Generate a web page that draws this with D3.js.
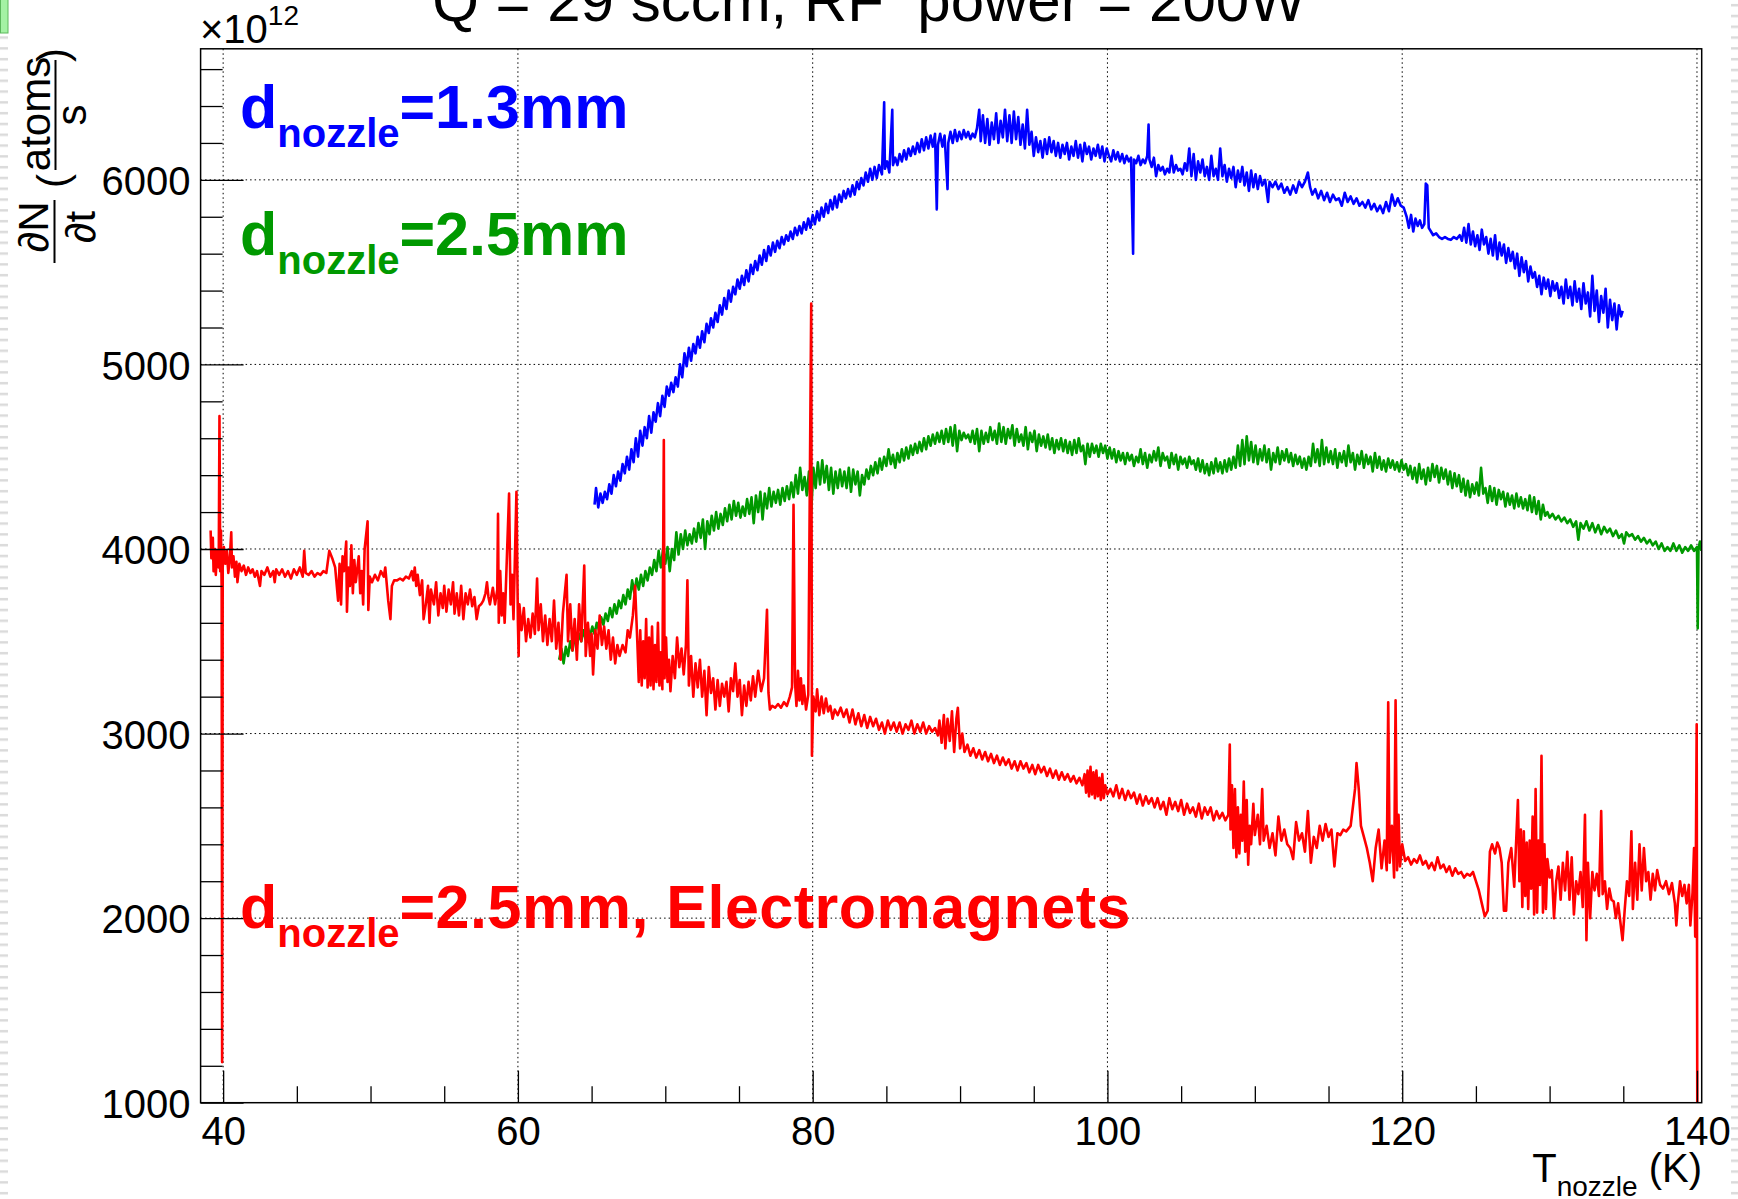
<!DOCTYPE html>
<html><head><meta charset="utf-8">
<script src="https://cdn.jsdelivr.net/npm/d3@7"></script>
<style>
html,body{margin:0;padding:0;background:#fff;}
svg{display:block;}
text{font-family:"Liberation Sans",Arial,Helvetica,sans-serif;}
</style></head><body>
<svg id="chart" width="1738" height="1199"></svg>
<script>
// ---------------- data ----------------
const titleText = "Q = 29 sccm, RF\u00a0 power = 200W";
const xTicksMajor = [40,60,80,100,120,140];
const xTicksMinor = [45,50,55,65,70,75,85,90,95,105,110,115,125,130,135];
const yTicksMajor = [1000,2000,3000,4000,5000,6000];
const yTicksMinor = [1200,1400,1600,1800,2200,2400,2600,2800,3200,3400,3600,3800,4200,4400,4600,4800,5200,5400,5600,5800,6200,6400,6600];
const labelBlue = "=1.3mm";
const labelGreen = "=2.5mm";
const labelRed = "=2.5mm, Electromagnets";

// d_nozzle = 1.3 mm  [T (K), dN/dt (1e12 atoms/s)]
const blueSeries = [[65.2,4240],[65.3,4330],[65.45,4225],[65.6,4300],[65.75,4250],[65.9,4310],[66.05,4270],[66.2,4350],[66.35,4300],[66.5,4400],[66.65,4340],[66.8,4420],[66.95,4370],[67.1,4460],[67.25,4410],[67.4,4500],[67.55,4430],[67.7,4540],[67.85,4470],[68.0,4600],[68.15,4500],[68.3,4640],[68.45,4560],[68.6,4660],[68.75,4600],[68.9,4720],[69.05,4630],[69.2,4740],[69.35,4690],[69.5,4790],[69.65,4720],[69.8,4830],[69.95,4770],[70.1,4880],[70.25,4830],[70.4,4900],[70.55,4850],[70.7,4930],[70.85,4880],[71.0,5000],[71.15,4930],[71.3,5060],[71.45,4990],[71.6,5090],[71.75,5020],[71.9,5110],[72.05,5060],[72.2,5150],[72.35,5090],[72.5,5180],[72.65,5120],[72.8,5220],[72.95,5170],[73.1,5250],[73.25,5200],[73.4,5280],[73.55,5230],[73.7,5320],[73.85,5270],[74.0,5360],[74.15,5300],[74.3,5400],[74.45,5340],[74.6,5420],[74.75,5380],[74.9,5460],[75.05,5410],[75.2,5480],[75.35,5430],[75.5,5510],[75.65,5450],[75.8,5540],[75.95,5490],[76.1,5560],[76.25,5510],[76.4,5590],[76.55,5540],[76.7,5620],[76.85,5560],[77.0,5640],[77.15,5590],[77.3,5660],[77.45,5610],[77.6,5670],[77.75,5630],[77.9,5690],[78.05,5650],[78.2,5700],[78.35,5670],[78.5,5720],[78.65,5680],[78.8,5740],[78.95,5700],[79.1,5750],[79.25,5710],[79.4,5770],[79.55,5730],[79.7,5790],[79.85,5740],[80.0,5810],[80.15,5760],[80.3,5830],[80.45,5780],[80.6,5850],[80.75,5800],[80.9,5870],[81.05,5820],[81.2,5890],[81.35,5840],[81.5,5910],[81.65,5850],[81.8,5920],[81.95,5880],[82.1,5940],[82.25,5900],[82.4,5950],[82.55,5910],[82.7,5970],[82.85,5920],[83.0,5990],[83.15,5950],[83.3,6010],[83.45,5970],[83.6,6040],[83.75,5990],[83.9,6060],[84.05,6000],[84.2,6070],[84.35,6010],[84.5,6080],[84.7,6030],[84.85,6420],[84.9,6060],[85.05,6100],[85.2,6040],[85.4,6380],[85.45,6080],[85.6,6120],[85.75,6080],[85.9,6140],[86.05,6100],[86.2,6160],[86.35,6110],[86.5,6170],[86.65,6130],[86.8,6180],[86.95,6140],[87.1,6200],[87.25,6150],[87.4,6220],[87.55,6160],[87.7,6230],[87.85,6170],[88.0,6240],[88.15,6180],[88.3,6250],[88.42,5840],[88.5,6190],[88.65,6250],[88.8,6180],[88.95,6240],[89.15,5950],[89.2,6200],[89.35,6260],[89.5,6200],[89.65,6270],[89.8,6210],[89.95,6260],[90.1,6220],[90.25,6270],[90.4,6230],[90.55,6260],[90.7,6220],[90.85,6250],[91.0,6230],[91.15,6280],[91.3,6380],[91.4,6210],[91.55,6350],[91.7,6200],[91.85,6330],[92.0,6190],[92.15,6310],[92.3,6220],[92.45,6360],[92.6,6200],[92.75,6320],[92.9,6230],[93.05,6380],[93.2,6210],[93.35,6350],[93.5,6200],[93.65,6370],[93.8,6220],[93.95,6340],[94.1,6190],[94.25,6300],[94.4,6170],[94.55,6380],[94.7,6190],[94.85,6260],[95.0,6130],[95.15,6230],[95.3,6150],[95.45,6210],[95.6,6120],[95.75,6220],[95.9,6140],[96.05,6230],[96.2,6150],[96.35,6210],[96.5,6130],[96.65,6200],[96.8,6120],[96.95,6190],[97.1,6140],[97.25,6200],[97.4,6110],[97.55,6180],[97.7,6130],[97.85,6210],[98.0,6120],[98.15,6190],[98.3,6100],[98.45,6200],[98.6,6140],[98.75,6180],[98.9,6110],[99.05,6170],[99.2,6130],[99.35,6190],[99.5,6120],[99.65,6180],[99.8,6100],[99.95,6170],[100.1,6130],[100.25,6100],[100.4,6160],[100.55,6110],[100.7,6150],[100.85,6100],[101.0,6140],[101.15,6090],[101.3,6130],[101.45,6100],[101.6,6120],[101.74,5600],[101.8,6110],[101.95,6090],[102.1,6130],[102.25,6080],[102.4,6110],[102.55,6090],[102.7,6130],[102.79,6300],[102.85,6110],[103.0,6070],[103.15,6120],[103.3,6020],[103.45,6080],[103.6,6050],[103.75,6070],[103.9,6030],[104.05,6060],[104.2,6040],[104.35,6130],[104.5,6040],[104.65,6080],[104.8,6050],[104.95,6060],[105.1,6030],[105.25,6090],[105.4,6050],[105.55,6170],[105.7,6020],[105.85,6140],[106.0,6000],[106.15,6100],[106.3,6040],[106.45,6110],[106.6,6020],[106.75,6070],[106.9,6000],[107.05,6130],[107.2,6020],[107.35,6060],[107.5,6000],[107.65,6170],[107.8,6020],[107.95,6080],[108.1,5990],[108.25,6060],[108.4,6010],[108.55,6070],[108.7,5960],[108.85,6050],[109.0,5990],[109.15,6070],[109.3,5970],[109.45,6040],[109.6,5940],[109.75,6050],[109.9,5960],[110.05,6030],[110.2,5950],[110.35,6020],[110.5,5970],[110.7,6000],[110.9,5880],[111.0,5990],[111.2,5960],[111.4,5990],[111.6,5950],[111.8,5980],[112.0,5930],[112.2,5960],[112.4,5920],[112.6,5970],[112.8,5930],[113.0,5990],[113.2,5960],[113.4,5990],[113.6,6040],[113.75,5960],[113.9,5920],[114.1,5950],[114.3,5900],[114.5,5940],[114.7,5890],[114.9,5930],[115.1,5880],[115.3,5920],[115.5,5890],[115.7,5900],[115.9,5860],[116.1,5930],[116.3,5880],[116.5,5910],[116.7,5870],[116.9,5900],[117.1,5860],[117.3,5880],[117.5,5850],[117.7,5890],[117.9,5840],[118.1,5870],[118.3,5830],[118.5,5860],[118.7,5820],[118.9,5880],[119.1,5830],[119.3,5920],[119.5,5860],[119.7,5900],[119.9,5860],[120.1,5850],[120.3,5800],[120.45,5740],[120.6,5810],[120.75,5720],[120.9,5790],[121.05,5750],[121.2,5780],[121.35,5740],[121.5,5760],[121.6,5980],[121.7,5970],[121.8,5740],[121.95,5720],[122.1,5700],[122.3,5710],[122.5,5690],[122.7,5680],[122.9,5690],[123.1,5680],[123.3,5675],[123.5,5690],[123.7,5680],[123.9,5700],[124.05,5670],[124.2,5740],[124.35,5660],[124.5,5760],[124.65,5650],[124.8,5720],[124.95,5640],[125.1,5700],[125.25,5620],[125.4,5730],[125.55,5650],[125.7,5690],[125.85,5600],[126.0,5680],[126.15,5590],[126.3,5700],[126.45,5570],[126.6,5660],[126.75,5590],[126.9,5650],[127.05,5550],[127.2,5630],[127.35,5560],[127.5,5610],[127.65,5520],[127.8,5600],[127.95,5480],[128.1,5580],[128.25,5500],[128.4,5560],[128.55,5450],[128.7,5530],[128.85,5470],[129.0,5500],[129.15,5420],[129.3,5480],[129.45,5380],[129.6,5470],[129.75,5410],[129.9,5460],[130.05,5370],[130.2,5450],[130.35,5400],[130.5,5440],[130.65,5360],[130.8,5420],[130.95,5330],[131.1,5460],[131.25,5360],[131.4,5420],[131.55,5320],[131.7,5450],[131.85,5340],[132.0,5410],[132.15,5300],[132.3,5440],[132.45,5330],[132.6,5390],[132.75,5260],[132.9,5480],[133.05,5290],[133.2,5400],[133.35,5230],[133.5,5370],[133.65,5280],[133.8,5410],[133.95,5200],[134.1,5350],[134.25,5240],[134.4,5330],[134.55,5190],[134.7,5320],[134.85,5260],[134.96,5290]];

// d_nozzle = 2.5 mm
const greenSeries = [[62.8,3400],[62.95,3460],[63.1,3380],[63.25,3470],[63.4,3420],[63.55,3500],[63.7,3450],[63.85,3520],[64.0,3480],[64.15,3540],[64.3,3500],[64.45,3560],[64.6,3510],[64.75,3570],[64.9,3530],[65.05,3580],[65.2,3540],[65.35,3600],[65.5,3560],[65.65,3630],[65.8,3590],[65.95,3650],[66.1,3610],[66.25,3680],[66.4,3630],[66.55,3700],[66.7,3650],[66.85,3720],[67.0,3680],[67.15,3750],[67.3,3700],[67.45,3780],[67.6,3730],[67.75,3830],[67.9,3760],[68.05,3840],[68.2,3780],[68.35,3860],[68.5,3800],[68.65,3880],[68.8,3830],[68.95,3900],[69.1,3860],[69.25,3940],[69.4,3880],[69.55,3990],[69.7,3900],[69.85,4000],[70.0,3920],[70.15,4010],[70.3,3880],[70.45,4000],[70.6,3940],[70.75,4090],[70.9,3970],[71.05,4080],[71.2,4000],[71.35,4100],[71.5,4020],[71.65,4080],[71.8,4030],[71.95,4110],[72.1,4040],[72.25,4140],[72.4,4060],[72.55,4160],[72.7,4000],[72.85,4150],[73.0,4080],[73.15,4180],[73.3,4100],[73.45,4200],[73.6,4110],[73.75,4190],[73.9,4130],[74.05,4220],[74.2,4150],[74.35,4240],[74.5,4160],[74.65,4260],[74.8,4180],[74.95,4250],[75.1,4170],[75.25,4230],[75.4,4180],[75.55,4270],[75.7,4190],[75.85,4280],[76.0,4140],[76.15,4290],[76.3,4200],[76.45,4310],[76.6,4160],[76.75,4300],[76.9,4220],[77.05,4330],[77.2,4230],[77.35,4310],[77.5,4250],[77.65,4320],[77.8,4240],[77.95,4330],[78.1,4260],[78.25,4340],[78.4,4270],[78.55,4360],[78.7,4280],[78.85,4400],[79.0,4300],[79.15,4440],[79.3,4320],[79.45,4390],[79.6,4290],[79.75,4420],[79.9,4200],[80.05,4440],[80.2,4330],[80.35,4470],[80.5,4350],[80.65,4480],[80.8,4360],[80.95,4450],[81.1,4320],[81.25,4440],[81.4,4300],[81.55,4420],[81.7,4330],[81.85,4430],[82.0,4340],[82.15,4420],[82.3,4330],[82.45,4440],[82.6,4310],[82.75,4430],[82.9,4350],[83.05,4420],[83.2,4290],[83.35,4400],[83.5,4350],[83.65,4430],[83.8,4380],[83.95,4450],[84.1,4400],[84.25,4470],[84.4,4410],[84.55,4490],[84.7,4430],[84.85,4500],[85.0,4450],[85.15,4540],[85.3,4460],[85.45,4510],[85.6,4440],[85.75,4520],[85.9,4470],[86.05,4540],[86.2,4480],[86.35,4550],[86.5,4490],[86.65,4560],[86.8,4510],[86.95,4570],[87.1,4520],[87.25,4580],[87.4,4530],[87.55,4600],[87.7,4540],[87.85,4610],[88.0,4560],[88.15,4620],[88.3,4570],[88.45,4630],[88.6,4580],[88.75,4640],[88.9,4570],[89.05,4650],[89.2,4580],[89.35,4660],[89.5,4560],[89.65,4670],[89.8,4530],[89.95,4640],[90.1,4590],[90.25,4630],[90.4,4600],[90.55,4620],[90.7,4580],[90.85,4640],[91.0,4570],[91.15,4650],[91.3,4530],[91.45,4640],[91.6,4570],[91.75,4630],[91.9,4580],[92.05,4660],[92.2,4590],[92.35,4640],[92.5,4570],[92.65,4680],[92.8,4580],[92.95,4660],[93.1,4570],[93.25,4650],[93.4,4600],[93.55,4670],[93.7,4560],[93.85,4650],[94.0,4580],[94.15,4620],[94.3,4560],[94.45,4660],[94.6,4540],[94.75,4630],[94.9,4580],[95.05,4640],[95.2,4530],[95.35,4620],[95.5,4560],[95.65,4610],[95.8,4550],[95.95,4620],[96.1,4540],[96.25,4600],[96.4,4520],[96.55,4590],[96.7,4540],[96.85,4600],[97.0,4530],[97.15,4590],[97.3,4520],[97.45,4580],[97.6,4510],[97.75,4590],[97.9,4520],[98.05,4600],[98.2,4530],[98.35,4560],[98.5,4460],[98.65,4570],[98.8,4500],[98.95,4570],[99.1,4520],[99.25,4560],[99.4,4500],[99.55,4570],[99.7,4520],[99.85,4560],[100.0,4490],[100.15,4550],[100.3,4490],[100.45,4540],[100.6,4470],[100.75,4530],[100.9,4480],[101.05,4520],[101.2,4460],[101.35,4520],[101.5,4480],[101.65,4510],[101.8,4450],[101.95,4500],[102.1,4470],[102.25,4540],[102.4,4460],[102.55,4520],[102.7,4440],[102.85,4510],[103.0,4470],[103.15,4530],[103.3,4480],[103.45,4550],[103.6,4450],[103.75,4520],[103.9,4480],[104.05,4500],[104.2,4440],[104.35,4520],[104.5,4460],[104.65,4510],[104.8,4430],[104.95,4500],[105.1,4460],[105.25,4490],[105.4,4440],[105.55,4500],[105.7,4460],[105.85,4480],[106.0,4430],[106.15,4490],[106.3,4420],[106.45,4480],[106.6,4410],[106.75,4460],[106.9,4400],[107.05,4470],[107.2,4410],[107.35,4490],[107.5,4420],[107.65,4470],[107.8,4410],[107.95,4480],[108.1,4420],[108.25,4490],[108.4,4430],[108.55,4500],[108.7,4440],[108.85,4560],[109.0,4450],[109.15,4590],[109.3,4460],[109.45,4610],[109.6,4480],[109.75,4580],[109.9,4470],[110.05,4560],[110.2,4460],[110.35,4540],[110.5,4480],[110.65,4560],[110.8,4470],[110.95,4540],[111.1,4430],[111.25,4520],[111.4,4470],[111.55,4550],[111.7,4460],[111.85,4530],[112.0,4480],[112.15,4540],[112.3,4470],[112.45,4520],[112.6,4450],[112.75,4510],[112.9,4460],[113.05,4500],[113.2,4440],[113.35,4490],[113.5,4430],[113.65,4500],[113.8,4450],[113.95,4570],[114.1,4470],[114.25,4540],[114.4,4450],[114.55,4590],[114.7,4460],[114.85,4550],[115.0,4470],[115.15,4530],[115.3,4460],[115.45,4540],[115.6,4440],[115.75,4520],[115.9,4470],[116.05,4530],[116.2,4450],[116.35,4560],[116.5,4470],[116.65,4520],[116.8,4430],[116.95,4510],[117.1,4460],[117.25,4530],[117.4,4440],[117.55,4510],[117.7,4460],[117.85,4500],[118.0,4420],[118.15,4520],[118.3,4440],[118.45,4500],[118.6,4430],[118.75,4480],[118.9,4420],[119.05,4490],[119.2,4440],[119.35,4480],[119.5,4430],[119.65,4470],[119.8,4420],[119.95,4480],[120.1,4430],[120.25,4460],[120.4,4400],[120.55,4450],[120.7,4380],[120.85,4440],[121.0,4360],[121.15,4460],[121.3,4380],[121.45,4430],[121.6,4350],[121.75,4440],[121.9,4370],[122.05,4460],[122.2,4390],[122.35,4450],[122.5,4360],[122.65,4440],[122.8,4380],[122.95,4430],[123.1,4350],[123.25,4420],[123.4,4330],[123.55,4410],[123.7,4340],[123.85,4400],[124.0,4310],[124.15,4380],[124.3,4290],[124.45,4370],[124.6,4280],[124.75,4350],[124.9,4300],[125.05,4360],[125.2,4290],[125.35,4440],[125.5,4300],[125.65,4330],[125.8,4250],[125.95,4340],[126.1,4260],[126.25,4330],[126.4,4240],[126.55,4320],[126.7,4270],[126.85,4310],[127.0,4230],[127.15,4300],[127.3,4240],[127.45,4290],[127.6,4220],[127.75,4300],[127.9,4230],[128.05,4280],[128.2,4220],[128.35,4270],[128.5,4210],[128.65,4290],[128.8,4200],[128.95,4280],[129.1,4190],[129.25,4260],[129.4,4160],[129.55,4240],[129.7,4180],[129.85,4200],[130.0,4170],[130.2,4190],[130.4,4160],[130.6,4180],[130.8,4150],[131.0,4170],[131.2,4140],[131.4,4160],[131.6,4120],[131.8,4150],[131.95,4050],[132.1,4140],[132.3,4110],[132.5,4150],[132.7,4100],[132.9,4140],[133.1,4090],[133.3,4130],[133.5,4080],[133.7,4120],[133.9,4090],[134.1,4110],[134.3,4070],[134.5,4100],[134.7,4060],[134.9,4080],[135.05,4030],[135.2,4090],[135.4,4070],[135.6,4080],[135.8,4050],[136.0,4070],[136.2,4040],[136.4,4060],[136.6,4030],[136.8,4050],[137.0,4020],[137.2,4040],[137.4,4000],[137.6,4030],[137.8,3990],[138.0,4010],[138.2,3990],[138.4,4030],[138.6,3990],[138.8,4020],[139.0,3980],[139.2,4010],[139.4,3990],[139.6,4020],[139.8,3990],[140.0,4010],[140.05,3570],[140.1,4000],[140.2,4040],[140.3,3990]];

// d_nozzle = 2.5 mm, Electromagnets
const redSeries = [[39.15,4100],[39.2,3950],[39.3,4060],[39.35,3880],[39.45,4000],[39.5,3860],[39.6,3990],[39.7,3900],[39.75,4720],[39.8,3880],[39.85,4100],[39.9,3780],[39.93,1220],[39.97,3900],[40.05,4010],[40.15,3920],[40.25,3990],[40.35,3870],[40.45,3950],[40.55,4090],[40.6,3900],[40.7,3960],[40.8,3850],[40.9,3930],[40.97,3820],[41.1,3920],[41.25,3880],[41.4,3910],[41.55,3860],[41.7,3900],[41.85,3870],[42.0,3890],[42.15,3850],[42.3,3880],[42.5,3800],[42.6,3880],[42.8,3860],[43.0,3900],[43.2,3850],[43.4,3880],[43.5,3820],[43.6,3890],[43.8,3860],[44.0,3890],[44.2,3850],[44.4,3880],[44.6,3840],[44.8,3890],[45.0,3860],[45.2,3900],[45.4,3850],[45.5,3990],[45.6,3870],[45.8,3860],[46.0,3880],[46.2,3850],[46.4,3870],[46.6,3860],[46.8,3880],[47.0,3870],[47.2,3990],[47.4,3950],[47.6,3900],[47.8,3720],[47.9,3920],[48.0,3700],[48.1,3960],[48.2,3880],[48.35,4040],[48.4,3660],[48.5,3900],[48.6,3800],[48.7,4020],[48.8,3760],[48.9,3940],[49.0,3820],[49.2,3960],[49.3,3760],[49.4,3880],[49.5,3700],[49.6,4000],[49.8,4150],[49.85,3670],[49.95,3850],[50.1,3820],[50.3,3860],[50.5,3830],[50.7,3880],[50.9,3850],[51.0,3900],[51.2,3720],[51.35,3620],[51.45,3800],[51.6,3830],[51.8,3830],[52.0,3840],[52.2,3830],[52.4,3850],[52.6,3840],[52.8,3880],[52.9,3830],[53.0,3900],[53.1,3800],[53.2,3860],[53.35,3750],[53.5,3830],[53.6,3620],[53.75,3700],[53.9,3800],[54.0,3600],[54.1,3780],[54.3,3700],[54.45,3820],[54.6,3640],[54.75,3760],[54.9,3680],[55.0,3800],[55.15,3660],[55.3,3780],[55.45,3700],[55.6,3820],[55.7,3650],[55.85,3760],[56.0,3640],[56.15,3800],[56.3,3620],[56.45,3760],[56.6,3700],[56.75,3780],[56.9,3690],[57.05,3740],[57.2,3620],[57.35,3690],[57.5,3700],[57.65,3720],[57.8,3760],[57.9,3820],[58.0,3740],[58.1,3700],[58.3,3790],[58.45,3700],[58.6,3780],[58.65,4190],[58.7,3600],[58.8,3880],[58.9,3640],[59.0,3760],[59.1,3600],[59.4,4300],[59.5,3700],[59.6,3860],[59.7,3620],[59.9,4310],[60.0,3600],[60.05,3420],[60.1,3700],[60.25,3560],[60.4,3680],[60.55,3500],[60.7,3620],[60.85,3520],[61.0,3650],[61.15,3540],[61.3,3840],[61.4,3560],[61.55,3700],[61.7,3500],[61.85,3640],[62.0,3480],[62.15,3620],[62.3,3500],[62.45,3720],[62.6,3460],[62.75,3600],[62.9,3400],[63.05,3650],[63.3,3860],[63.4,3500],[63.55,3700],[63.7,3450],[63.85,3620],[64.0,3400],[64.15,3700],[64.3,3500],[64.5,3910],[64.6,3420],[64.75,3600],[64.9,3420],[65.0,3540],[65.1,3320],[65.25,3560],[65.4,3460],[65.55,3640],[65.7,3480],[65.85,3580],[66.0,3460],[66.15,3560],[66.3,3400],[66.45,3520],[66.6,3380],[66.75,3480],[66.9,3420],[67.1,3480],[67.3,3440],[67.45,3560],[67.6,3520],[67.8,3640],[67.95,3800],[68.1,3500],[68.2,3280],[68.3,3560],[68.4,3260],[68.5,3500],[68.6,3300],[68.7,3620],[68.8,3250],[68.9,3520],[69.0,3260],[69.1,3580],[69.2,3240],[69.3,3480],[69.4,3280],[69.5,3600],[69.6,3260],[69.7,3440],[69.8,3240],[69.9,4590],[69.95,3300],[70.05,3520],[70.15,3280],[70.25,3400],[70.35,3230],[70.5,3420],[70.65,3300],[70.8,3520],[70.95,3360],[71.1,3460],[71.25,3320],[71.4,3480],[71.5,3830],[71.6,3260],[71.75,3420],[71.9,3200],[72.05,3380],[72.2,3250],[72.35,3400],[72.5,3200],[72.65,3340],[72.8,3100],[72.95,3360],[73.1,3220],[73.25,3300],[73.4,3130],[73.55,3290],[73.7,3150],[73.85,3270],[74.0,3200],[74.15,3280],[74.3,3120],[74.45,3300],[74.6,3230],[74.75,3380],[74.9,3200],[75.05,3290],[75.2,3100],[75.35,3260],[75.5,3150],[75.65,3280],[75.8,3180],[75.95,3310],[76.1,3200],[76.3,3340],[76.5,3230],[76.7,3300],[76.9,3670],[77.0,3220],[77.1,3130],[77.25,3150],[77.45,3140],[77.65,3160],[77.85,3140],[78.05,3170],[78.25,3150],[78.45,3200],[78.6,3250],[78.7,4240],[78.8,3280],[78.9,3150],[79.0,3340],[79.1,3180],[79.2,3300],[79.3,3160],[79.4,3260],[79.55,3130],[79.7,3210],[79.9,5330],[79.95,2880],[80.05,3200],[80.2,3120],[80.3,3240],[80.45,3100],[80.6,3200],[80.75,3110],[80.9,3190],[81.05,3120],[81.2,3150],[81.35,3080],[81.5,3130],[81.7,3100],[81.9,3140],[82.1,3090],[82.3,3130],[82.5,3060],[82.7,3130],[82.9,3050],[83.1,3110],[83.3,3040],[83.5,3100],[83.7,3030],[83.9,3090],[84.1,3040],[84.3,3080],[84.5,3020],[84.7,3060],[84.9,3000],[85.1,3070],[85.3,3020],[85.5,3060],[85.7,3010],[85.9,3060],[86.1,3000],[86.3,3050],[86.5,3020],[86.7,3070],[86.9,3000],[87.1,3050],[87.3,3010],[87.5,3060],[87.7,3000],[87.9,3040],[88.1,3010],[88.3,3030],[88.5,2990],[88.6,3070],[88.75,2950],[88.9,3100],[89.0,2920],[89.15,3080],[89.3,2960],[89.45,3120],[89.6,2900],[89.75,3080],[89.85,3140],[90.0,2920],[90.15,3000],[90.3,2900],[90.5,2940],[90.7,2880],[90.9,2920],[91.1,2870],[91.3,2910],[91.5,2860],[91.7,2900],[91.9,2850],[92.1,2890],[92.3,2840],[92.5,2880],[92.7,2830],[92.9,2870],[93.1,2830],[93.3,2860],[93.5,2810],[93.7,2850],[93.9,2800],[94.1,2850],[94.3,2810],[94.5,2840],[94.7,2790],[94.9,2830],[95.1,2780],[95.3,2830],[95.5,2790],[95.7,2820],[95.9,2770],[96.1,2810],[96.3,2760],[96.5,2800],[96.7,2750],[96.9,2790],[97.1,2750],[97.3,2780],[97.5,2740],[97.7,2770],[97.9,2730],[98.1,2760],[98.3,2720],[98.45,2780],[98.55,2680],[98.65,2800],[98.75,2660],[98.85,2820],[98.95,2670],[99.05,2790],[99.15,2650],[99.25,2800],[99.35,2660],[99.45,2760],[99.55,2640],[99.65,2780],[99.75,2650],[99.85,2720],[100.0,2670],[100.2,2700],[100.4,2660],[100.6,2720],[100.8,2650],[101.0,2700],[101.2,2640],[101.4,2690],[101.6,2650],[101.8,2680],[102.0,2620],[102.2,2670],[102.4,2610],[102.6,2660],[102.8,2620],[103.0,2650],[103.2,2600],[103.4,2650],[103.6,2590],[103.8,2630],[104.0,2560],[104.2,2650],[104.4,2590],[104.6,2630],[104.8,2580],[105.0,2640],[105.2,2560],[105.4,2620],[105.6,2570],[105.8,2600],[106.0,2550],[106.2,2620],[106.4,2540],[106.6,2600],[106.8,2560],[107.0,2600],[107.2,2530],[107.4,2580],[107.6,2540],[107.8,2570],[108.0,2530],[108.2,2560],[108.3,2940],[108.35,2480],[108.45,2720],[108.55,2380],[108.65,2700],[108.75,2330],[108.85,2600],[108.95,2350],[109.05,2560],[109.15,2420],[109.25,2740],[109.35,2360],[109.45,2640],[109.55,2290],[109.65,2500],[109.75,2400],[109.9,2620],[110.0,2450],[110.2,2560],[110.35,2400],[110.5,2700],[110.6,2420],[110.8,2500],[111.0,2380],[111.2,2460],[111.4,2340],[111.6,2550],[111.8,2420],[112.0,2480],[112.2,2400],[112.4,2380],[112.6,2320],[112.8,2520],[113.0,2420],[113.2,2460],[113.4,2360],[113.6,2580],[113.8,2300],[114.0,2440],[114.2,2380],[114.4,2500],[114.6,2420],[114.8,2510],[115.0,2440],[115.2,2480],[115.4,2280],[115.6,2460],[115.8,2450],[116.0,2480],[116.2,2470],[116.5,2500],[116.8,2700],[116.9,2840],[117.05,2700],[117.2,2500],[117.4,2440],[117.6,2380],[117.8,2300],[118.0,2200],[118.2,2380],[118.4,2480],[118.6,2270],[118.8,2420],[118.95,2260],[119.05,3170],[119.15,2300],[119.3,2500],[119.45,2220],[119.55,3180],[119.65,2260],[119.75,2560],[119.85,2280],[120.0,2400],[120.2,2310],[120.4,2330],[120.6,2290],[120.8,2320],[121.0,2300],[121.2,2340],[121.4,2290],[121.6,2310],[121.8,2270],[122.0,2300],[122.2,2260],[122.4,2330],[122.6,2270],[122.8,2290],[123.0,2250],[123.2,2280],[123.4,2230],[123.6,2270],[123.8,2240],[124.0,2250],[124.2,2220],[124.4,2240],[124.6,2230],[124.8,2250],[125.0,2200],[125.2,2150],[125.4,2080],[125.6,2010],[125.8,2040],[125.95,2360],[126.1,2400],[126.3,2350],[126.45,2410],[126.6,2380],[126.75,2300],[126.9,2040],[127.05,2040],[127.2,2300],[127.4,2380],[127.6,2170],[127.85,2640],[127.95,2200],[128.05,2480],[128.15,2060],[128.25,2470],[128.35,2120],[128.45,2410],[128.55,2050],[128.65,2420],[128.75,2160],[128.85,2550],[128.95,2020],[129.05,2700],[129.15,2030],[129.25,2420],[129.35,2180],[129.45,2880],[129.55,2030],[129.65,2400],[129.75,2050],[129.85,2320],[130.0,2220],[130.15,2260],[130.3,2000],[130.45,2200],[130.6,2280],[130.75,2100],[130.9,2300],[131.05,2150],[131.2,2360],[131.35,2100],[131.5,2330],[131.65,2020],[131.8,2200],[131.95,2130],[132.1,2250],[132.25,2060],[132.4,2560],[132.5,1880],[132.6,2300],[132.75,2000],[132.9,2250],[133.05,2150],[133.2,2240],[133.35,2120],[133.5,2580],[133.6,2130],[133.75,2200],[133.9,2050],[134.05,2160],[134.2,2100],[134.35,2090],[134.5,2000],[134.65,2080],[134.8,1980],[134.95,1880],[135.1,2050],[135.25,2200],[135.4,2120],[135.55,2470],[135.65,2050],[135.8,2300],[135.95,2100],[136.1,2400],[136.25,2150],[136.4,2380],[136.55,2200],[136.7,2250],[136.85,2100],[137.0,2240],[137.15,2150],[137.3,2260],[137.5,2180],[137.7,2160],[137.9,2200],[138.1,2130],[138.3,2190],[138.5,2080],[138.6,1960],[138.7,2080],[138.85,2200],[139.0,2120],[139.15,2180],[139.3,2080],[139.45,2180],[139.55,1960],[139.7,2140],[139.8,2380],[139.88,1900],[139.93,2400],[139.98,3050],[140.02,1000]];

// ---------------- drawing ----------------
const W = 1738, H = 1199;
const L = 200.6, R = 1701.7, TOP = 48.8, B = 1102.7;
const x = d3.scaleLinear().domain([38.47, 140.32]).range([L, R]);
const y = d3.scaleLinear().domain([1000, 6710]).range([B, TOP]);
const FONT = '"Liberation Sans", Arial, Helvetica, sans-serif';

const svg = d3.select("#chart");
svg.append("rect").attr("width", W).attr("height", H).attr("fill", "#fff");

const defs = svg.append("defs");
defs.append("clipPath").attr("id", "frameclip").append("rect")
  .attr("x", L).attr("y", TOP).attr("width", R - L).attr("height", B - TOP);
const pat = defs.append("pattern").attr("id", "stripe").attr("patternUnits", "userSpaceOnUse")
  .attr("width", 8).attr("height", 10.8);
pat.append("rect").attr("x", 0).attr("y", 4).attr("width", 8).attr("height", 2.4).attr("fill", "#dadada");

// side decorations of the screenshot
svg.append("rect").attr("x", 0).attr("y", 36).attr("width", 8).attr("height", H - 36).attr("fill", "url(#stripe)");
svg.append("rect").attr("x", 1731).attr("y", 0).attr("width", 7).attr("height", H).attr("fill", "url(#stripe)");
svg.append("rect").attr("x", 0.5).attr("y", -1).attr("width", 7.5).attr("height", 34)
  .attr("fill", "#a4f2a4").attr("stroke", "#5cb85c").attr("stroke-width", 1);

// grid
const grid = svg.append("g").attr("stroke", "#000").attr("stroke-width", 1).attr("stroke-dasharray", "1.5,3");
grid.append("g").selectAll("line").data(xTicksMajor).join("line")
  .attr("x1", d => x(d)).attr("x2", d => x(d)).attr("y1", TOP).attr("y2", B);
grid.append("g").selectAll("line").data(yTicksMajor.filter(d => d > 1000)).join("line")
  .attr("x1", L).attr("x2", R).attr("y1", d => y(d)).attr("y2", d => y(d));

// series
const line = d3.line().x(d => x(d[0])).y(d => y(d[1]));
const plot = svg.append("g").attr("clip-path", "url(#frameclip)");
[[blueSeries, "#0000ff"], [greenSeries, "#009900"], [redSeries, "#ff0000"]].forEach(([data, col]) => {
  plot.append("path").datum(data).attr("d", line).attr("fill", "none")
    .attr("stroke", col).attr("stroke-width", 2.6).attr("stroke-linejoin", "round");
});

// axes
function styleAxis(g) {
  g.attr("font-family", FONT).attr("font-size", 40);
  g.selectAll(".tick line").attr("stroke", "#000").attr("stroke-width", 1.3);
  g.selectAll("text").attr("fill", "#000");
}
const gyMinor = svg.append("g").attr("transform", `translate(${L},0)`)
  .call(d3.axisLeft(y).tickValues(yTicksMinor).tickSize(-22).tickSizeOuter(0).tickFormat(""));
gyMinor.select(".domain").remove(); styleAxis(gyMinor);
const gy = svg.append("g").attr("transform", `translate(${L},0)`)
  .call(d3.axisLeft(y).tickValues(yTicksMajor).tickSize(-43).tickSizeOuter(0).tickPadding(10).tickFormat(d3.format("d")));
gy.select(".domain").remove(); styleAxis(gy);
gy.selectAll("text").attr("dy", "0.37em");

const gxMinor = svg.append("g").attr("transform", `translate(0,${B})`)
  .call(d3.axisBottom(x).tickValues(xTicksMinor).tickSize(-16.5).tickSizeOuter(0).tickFormat(""));
gxMinor.select(".domain").remove(); styleAxis(gxMinor);
const gx = svg.append("g").attr("transform", `translate(0,${B})`)
  .call(d3.axisBottom(x).tickValues(xTicksMajor).tickSize(-32).tickSizeOuter(0).tickPadding(14).tickFormat(d3.format("d")));
gx.select(".domain").remove(); styleAxis(gx);

// frame
svg.append("rect").attr("x", L).attr("y", TOP).attr("width", R - L).attr("height", B - TOP)
  .attr("fill", "none").attr("stroke", "#000").attr("stroke-width", 1.5);

// title (clipped at the top as in the original)
svg.append("text").attr("x", 869).attr("y", 21).attr("text-anchor", "middle")
  .attr("font-family", FONT).attr("font-size", 60).attr("fill", "#000").text(titleText);

// exponent
const ex = svg.append("text").attr("x", 200).attr("y", 43).attr("font-family", FONT)
  .attr("font-size", 40).attr("fill", "#000");
ex.append("tspan").text("\u00d710");
ex.append("tspan").attr("font-size", 28).attr("dy", -18).text("12");

// y axis title (rotated, with fractions)
const yt = svg.append("g").attr("transform", "translate(54.5,263) rotate(-90)")
  .attr("font-family", FONT).attr("font-size", 42).attr("fill", "#000");
yt.append("line").attr("x1", 0).attr("x2", 63).attr("y1", 0).attr("y2", 0).attr("stroke", "#000").attr("stroke-width", 2);
yt.append("text").attr("x", 36).attr("y", -7).attr("text-anchor", "middle").text("\u2202N");
yt.append("text").attr("x", 36).attr("y", 40).attr("text-anchor", "middle").text("\u2202t");
yt.append("text").attr("x", 75).attr("y", 12).text("(");
yt.append("line").attr("x1", 93).attr("x2", 203).attr("y1", 1).attr("y2", 1).attr("stroke", "#000").attr("stroke-width", 2);
yt.append("text").attr("x", 149).attr("y", -5).attr("text-anchor", "middle").text("atoms");
yt.append("text").attr("x", 148).attr("y", 31).attr("text-anchor", "middle").text("s");
yt.append("text").attr("x", 201).attr("y", 12).text(")");

// x axis title
const xtl = svg.append("text").attr("x", 1702).attr("y", 1182).attr("text-anchor", "end")
  .attr("font-family", FONT).attr("font-size", 40).attr("fill", "#000");
xtl.append("tspan").text("T");
xtl.append("tspan").attr("font-size", 28).attr("dy", 14).text("nozzle");
xtl.append("tspan").attr("dy", -14).text("\u00a0(K)");

// in-plot labels
function label(yBase, color, rest, spacing) {
  const t = svg.append("text").attr("x", 240).attr("y", yBase).attr("font-family", FONT)
    .attr("font-weight", "bold").attr("font-size", 61).attr("fill", color);
  t.append("tspan").text("d");
  t.append("tspan").attr("font-size", 40).attr("dy", 19).text("nozzle");
  t.append("tspan").attr("dy", -19).attr("letter-spacing", spacing).text(rest);
}
label(128, "#0000ff", labelBlue, 0);
label(255, "#009900", labelGreen, 0);
label(928, "#ff0000", labelRed, 0.5);
</script>
</body></html>
